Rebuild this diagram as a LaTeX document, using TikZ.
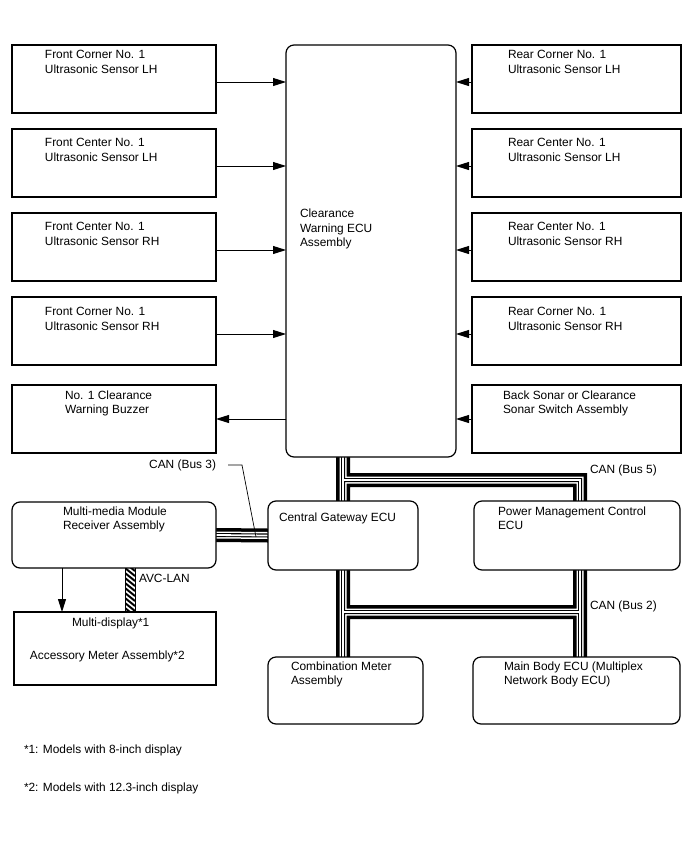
\documentclass[tikz,border=0pt]{standalone}
\usepackage{fontspec}
\setmainfont{Liberation Sans}
\usetikzlibrary{arrows.meta,backgrounds}
\begin{document}
\begin{tikzpicture}[x=1pt,y=-1pt,
  sq/.style={draw,line width=1.2pt,fill=white,inner sep=0pt,outer sep=0pt,anchor=north west,minimum width=204pt,minimum height=68pt},
  rsq/.style={sq,minimum width=209pt},
  rnd/.style={sq,rounded corners=8pt},
  txt/.style={inner sep=0pt,outer sep=0pt,anchor=north west,align=left,font=\fontsize{11.9}{14.5}\selectfont},
  arr/.style={line width=0.9pt,-{Triangle[length=13pt,width=8pt]}}]
\useasboundingbox (0,0) rectangle (688,852);

% sensor boxes
\node[sq] (fl1) at (12,45) {};
\node[sq] (fl2) at (12,129) {};
\node[sq] (fl3) at (12,213) {};
\node[sq] (fl4) at (12,297) {};
\node[sq] (buz) at (12,385) {};
\node[rsq] (rr1) at (472,45) {};
\node[rsq] (rr2) at (472,129) {};
\node[rsq] (rr3) at (472,213) {};
\node[rsq] (rr4) at (472,297) {};
\node[rsq] (sw) at (472,385) {};

\node[rnd,minimum width=170pt,minimum height=412pt] (ecu) at (286,45) {};
\node[rnd,minimum width=204pt,minimum height=66pt] (mm) at (12,502) {};
\node[rnd,minimum width=150pt,minimum height=69pt] (cg) at (268,501) {};
\node[rnd,minimum width=206pt,minimum height=69pt] (pm) at (474,501) {};
\node[rnd,minimum width=155pt,minimum height=67pt] (cm) at (268,657) {};
\node[rnd,minimum width=207pt,minimum height=67pt] (mb) at (473,657) {};
\node[sq,minimum width=202pt,minimum height=73pt] (md) at (14,612) {};

% texts
\node[txt] (fl1t) at (45,50.5) {Front Corner No. 1\\Ultrasonic Sensor LH};
\node[txt] (fl2t) at (45,138.5) {Front Center No. 1\\Ultrasonic Sensor LH};
\node[txt] (fl3t) at (45,222.5) {Front Center No. 1\\Ultrasonic Sensor RH};
\node[txt] (fl4t) at (45,307.5) {Front Corner No. 1\\Ultrasonic Sensor RH};
\node[txt] (buzt) at (65,390.5) {No. 1 Clearance\\Warning Buzzer};
\node[txt] (rr1t) at (508,50.5) {Rear Corner No. 1\\Ultrasonic Sensor LH};
\node[txt] (rr2t) at (508,138.5) {Rear Center No. 1\\Ultrasonic Sensor LH};
\node[txt] (rr3t) at (508,222.5) {Rear Center No. 1\\Ultrasonic Sensor RH};
\node[txt] (rr4t) at (508,307.5) {Rear Corner No. 1\\Ultrasonic Sensor RH};
\node[txt] (swt) at (503,390.5) {Back Sonar or Clearance\\Sonar Switch Assembly};
\node[txt] (ecut) at (300,209) {Clearance\\Warning ECU\\Assembly};
\node[txt] (mmt) at (63,506.5) {Multi-media Module\\Receiver Assembly};
\node[txt] (cgt) at (279,512.5) {Central Gateway ECU};
\node[txt] (pmt) at (498,506.5) {Power Management Control\\ECU};
\node[txt] (cmt) at (291,661.5) {Combination Meter\\Assembly};
\node[txt] (mbt) at (504,661.5) {Main Body ECU (Multiplex\\Network Body ECU)};
\node[txt] (mdt1) at (72,617.5) {Multi-display*1};
\node[txt] (mdt2) at (30,650.5) {Accessory Meter Assembly*2};
\node[txt] (fn1) at (24,744.5) {*1: Models with 8-inch display};
\node[txt] (fn2) at (24,782.5) {*2: Models with 12.3-inch display};
\node[txt,anchor=north east] (can3t) at (216,459.5) {CAN (Bus 3)};
\node[txt] (can5t) at (590,464.5) {CAN (Bus 5)};
\node[txt] (can2t) at (590,600.5) {CAN (Bus 2)};
\node[txt] (avct) at (139,574.5) {AVC-LAN};

% arrows
\draw[arr] ([yshift=-3pt]fl1.east) -- ([yshift=-3pt]fl1.east -| ecu.west);
\draw[arr] ([yshift=-3pt]fl2.east) -- ([yshift=-3pt]fl2.east -| ecu.west);
\draw[arr] ([yshift=-3pt]fl3.east) -- ([yshift=-3pt]fl3.east -| ecu.west);
\draw[arr] ([yshift=-3pt]fl4.east) -- ([yshift=-3pt]fl4.east -| ecu.west);
\draw[arr] (buz.east -| ecu.west) -- (buz.east);
\draw[arr] ([yshift=-3pt]rr1.west) -- ([yshift=-3pt]rr1.west -| ecu.east);
\draw[arr] ([yshift=-3pt]rr2.west) -- ([yshift=-3pt]rr2.west -| ecu.east);
\draw[arr] ([yshift=-3pt]rr3.west) -- ([yshift=-3pt]rr3.west -| ecu.east);
\draw[arr] ([yshift=-3pt]rr4.west) -- ([yshift=-3pt]rr4.west -| ecu.east);
\draw[arr] (sw.west) -- (sw.west -| ecu.east);
\draw[arr] ([xshift=-52pt]mm.south) -- ([xshift=-52pt]mm.south |- md.north);

% bus coordinates
\coordinate (t1) at (cg.north |- ecu.south);
\coordinate (j5) at ([yshift=-23pt]t1);
\coordinate (p5) at ([xshift=3pt]pm.north);
\coordinate (p2) at ([xshift=3pt]pm.south);
\coordinate (m2) at (p2 |- mb.north);
\coordinate (c1) at (cg.south |- cm.north);
\coordinate (j2) at ([yshift=-42pt]cg.south);
\begin{pgfonlayer}{background}
\foreach \bw/\bc in {14/black,7/white,4/black,1.8/white}
  \draw[line width=\bw pt,draw=\bc] (t1) -- (cg.north) (j5) -| (p5)
    (cg.south) -- (c1) (j2) -- (j2 -| p2) (p2) -- (m2) (mm.east) -- (cg.west);
\end{pgfonlayer}

% CAN bus 3 leader
\coordinate (k1) at (228,465);
\coordinate (k2) at (242,465);
\coordinate (k3) at (256,537);
\draw[line width=0.7pt] (k1) -- (k2) -- (k3);

% AVC-LAN
\coordinate (a1) at ([xshift=11pt]mm.south);
\coordinate (a2) at ([xshift=21pt]mm.south |- md.north);
\begin{scope}
  \clip (a1) rectangle (a2);
  \foreach \yy in {-10,-5,...,50}
    \draw[line width=2pt] (a1) ++(0,\yy) -- ++(10,8);
\end{scope}
\draw[line width=1pt] (a1) -- (a1 |- a2) (a2 |- a1) -- (a2);
\end{tikzpicture}
\end{document}
